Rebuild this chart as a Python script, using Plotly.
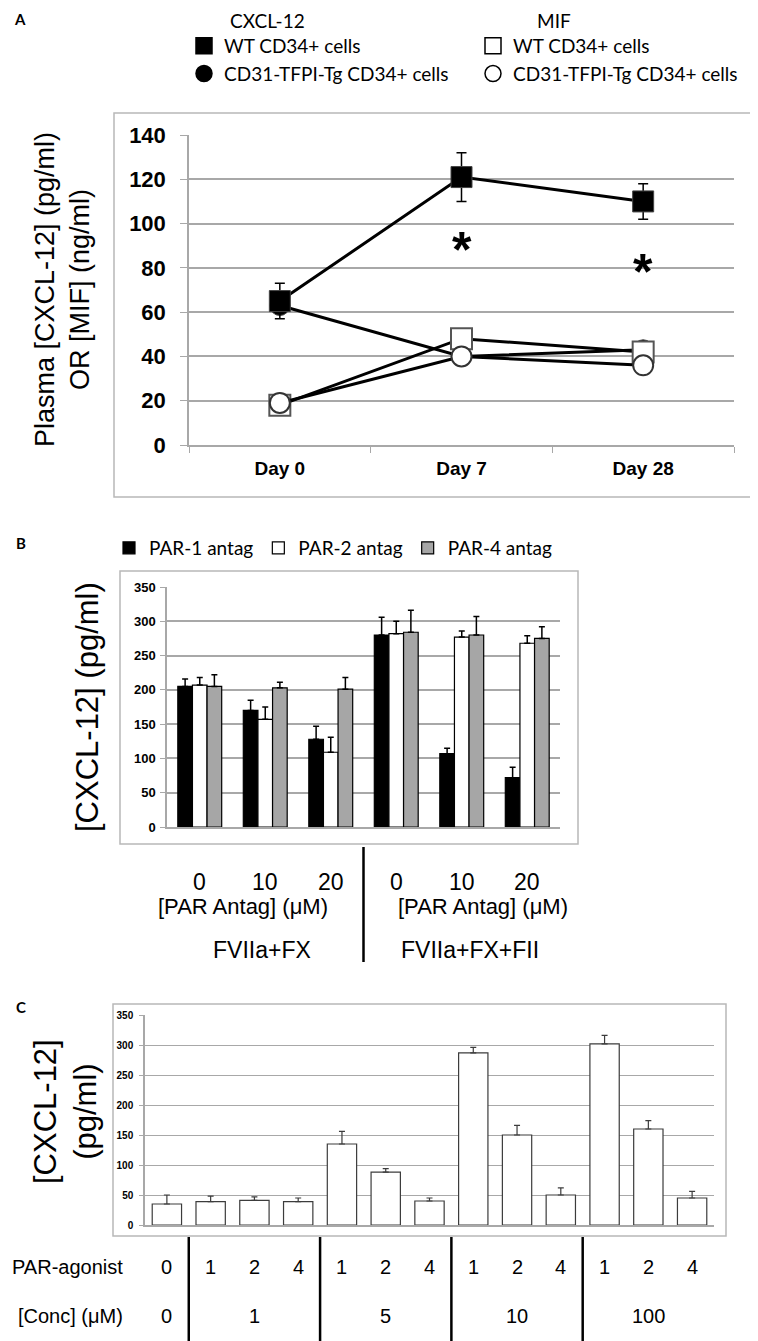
import plotly.graph_objects as go

W, H = 758, 1341
PAGE_OFFSET = 8  # the page body margin shifts the whole figure by this much

# ---- panel A: plasma levels over time
days = ["Day 0", "Day 7", "Day 28"]
cxcl_wt = [65, 121, 110]
cxcl_wt_err = [8, 11, 8]
cxcl_tg = [63, 40, 43]
mif_wt = [18, 48, 42]
mif_tg = [19, 40, 36]
sig_days = ["Day 7", "Day 28"]
sig_y = [93, 83]

# ---- panel B: PAR antagonists
antag_groups = ["FVIIa+FX", "FVIIa+FX+FII"]
antag_doses = ["0", "10", "20"]
par1 = [205, 170, 128, 280, 107, 72]
par1_err = [11, 15, 19, 26, 8, 15]
par2 = [207, 157, 109, 282, 277, 268]
par2_err = [11, 18, 22, 18, 9, 11]
par4 = [205, 203, 201, 284, 280, 275]
par4_err = [17, 8, 17, 32, 27, 17]

# ---- panel C: PAR agonists
conc_groups = ["0", "1", "5", "10", "100"]
agonist_sets = [["0"], ["1", "2", "4"], ["1", "2", "4"], ["1", "2", "4"], ["1", "2", "4"]]
agonist_vals = [35, 39, 41, 39, 135, 88, 40, 287, 150, 50, 302, 160, 45]
agonist_err = [15, 9, 6, 6, 21, 6, 5, 9, 16, 12, 14, 14, 11]

FONT = "Liberation Sans, Arial, sans-serif"
LFONT = "Lato, Calibri, sans-serif"
GRID = "#a8a8a8"
FRAME = "#b8b8b8"


def px(x):
    return (x - PAGE_OFFSET) / W


def py(y):
    return 1 - (y - PAGE_OFFSET) / H


b_cats = [f"{g} {d}" for g in antag_groups for d in antag_doses]
c_cats = [f"{c}|{a}" for c, grp in zip(conc_groups, agonist_sets) for a in grp]

fig = go.Figure()

# panel A lines (draw order keeps open markers on top)
line = dict(color="black", width=3)
fig.add_trace(go.Scatter(x=days, y=cxcl_tg, mode="lines+markers", line=line, showlegend=False,
                         marker=dict(symbol="circle", size=20, color="black", line=dict(color="#444", width=1))))
fig.add_trace(go.Scatter(x=days, y=cxcl_wt, mode="lines+markers", line=line, showlegend=False,
                         error_y=dict(type="data", array=cxcl_wt_err, color="black", thickness=1.5, width=5),
                         marker=dict(symbol="square", size=21, color="black", line=dict(color="#444", width=1))))
fig.add_trace(go.Scatter(x=days, y=mif_wt, mode="lines+markers", line=line, showlegend=False,
                         marker=dict(symbol="square", size=21, color="white", line=dict(color="#555", width=2))))
fig.add_trace(go.Scatter(x=days, y=mif_tg, mode="lines+markers", line=line, showlegend=False,
                         marker=dict(symbol="circle", size=20, color="white", line=dict(color="#333", width=2))))

# legend keys for panel A
legend_keys = [
    ("WT CD34+ cells", "square", "black", "legend"),
    ("CD31-TFPI-Tg CD34+ cells", "circle", "black", "legend"),
    ("WT CD34+ cells", "square", "white", "legend2"),
    ("CD31-TFPI-Tg CD34+ cells", "circle", "white", "legend2"),
]
for name, sym, col, leg in legend_keys:
    fig.add_trace(go.Scatter(x=[None], y=[None], mode="markers", name=name, legend=leg,
                             marker=dict(symbol=sym, size=16, color=col, line=dict(color="black", width=1.5))))

# panel B bars
for name, vals, errs, col in [("PAR-1 antag", par1, par1_err, "black"),
                              ("PAR-2 antag", par2, par2_err, "white"),
                              ("PAR-4 antag", par4, par4_err, "#a6a6a6")]:
    fig.add_trace(go.Bar(x=b_cats, y=vals, name=name, legend="legend3", xaxis="x2", yaxis="y2",
                         marker=dict(color=col, line=dict(color="black", width=1.2)),
                         error_y=dict(type="data", array=errs, arrayminus=[0] * len(errs), symmetric=False,
                                      color="black", thickness=1.5, width=3)))

# panel C bars
fig.add_trace(go.Bar(x=c_cats, y=agonist_vals, xaxis="x3", yaxis="y3", showlegend=False,
                     marker=dict(color="white", line=dict(color="#3c3c3c", width=1.2)),
                     error_y=dict(type="data", array=agonist_err, arrayminus=[0] * len(agonist_err),
                                  symmetric=False, color="#3c3c3c", thickness=1.2, width=3)))

ax_common = dict(showline=True, linecolor=GRID, linewidth=1.5, tickcolor=GRID, zeroline=False,
                 automargin=False)

fig.update_layout(
    template="none",
    width=W, height=H, autosize=False,
    margin=dict(l=0, r=0, t=0, b=0, pad=0),
    paper_bgcolor="white", plot_bgcolor="white",
    bargap=0.33, bargroupgap=0, barmode="group",
    font=dict(family=FONT, color="black"),
    xaxis=dict(domain=[px(189), px(734)], anchor="y", type="category", range=[-0.5, 2.5],
               ticks="outside", tickson="boundaries", ticklen=6, showgrid=False, ticklabelstandoff=5,
               tickfont=dict(family=FONT, size=19, weight="bold"), **ax_common),
    yaxis=dict(domain=[py(445), py(135)], anchor="x", range=[0, 140], dtick=20,
               ticks="outside", ticklen=7, showgrid=True, gridcolor=GRID, gridwidth=1.5,
               ticklabelstandoff=10,
               tickfont=dict(family=FONT, size=22, weight="bold"), **ax_common),
    xaxis2=dict(domain=[px(167), px(560)], anchor="y2", type="category", range=[-0.5, 5.5],
                ticks="", showticklabels=False, showgrid=False, **ax_common),
    yaxis2=dict(domain=[py(827), py(587)], anchor="x2", range=[0, 350], dtick=50,
                ticks="outside", ticklen=5, showgrid=True, gridcolor=GRID, gridwidth=1.5,
                ticklabelstandoff=2,
                tickfont=dict(family=FONT, size=13, weight="bold"), **ax_common),
    xaxis3=dict(domain=[px(145), px(714)], anchor="y3", type="category", range=[-0.5, 12.5],
                ticks="", showticklabels=False, showgrid=False, **ax_common),
    yaxis3=dict(domain=[py(1225), py(1015)], anchor="x3", range=[0, 350], dtick=50,
                ticks="outside", ticklen=4, showgrid=True, gridcolor=GRID, gridwidth=1.2,
                ticklabelstandoff=4,
                tickfont=dict(family=FONT, size=10, weight="bold"), **ax_common),
    legend=dict(x=px(184), y=py(27), xanchor="left", yanchor="top", font=dict(family=LFONT, size=19),
                bgcolor="rgba(0,0,0,0)", itemwidth=30, tracegroupgap=0),
    legend2=dict(x=px(473), y=py(27), xanchor="left", yanchor="top", font=dict(family=LFONT, size=19),
                 bgcolor="rgba(0,0,0,0)", itemwidth=30, tracegroupgap=0),
    legend3=dict(x=px(109), y=py(529), xanchor="left", yanchor="top", orientation="h",
                 font=dict(family=LFONT, size=19), bgcolor="rgba(0,0,0,0)", itemwidth=30),
)

shapes = [
    dict(type="rect", xref="paper", yref="paper", x0=px(114), x1=px(757), y0=py(497), y1=py(113),
         line=dict(color=FRAME, width=1.5)),
    dict(type="rect", xref="paper", yref="paper", x0=px(120), x1=px(578), y0=py(844), y1=py(571),
         line=dict(color=FRAME, width=1.5)),
    dict(type="rect", xref="paper", yref="paper", x0=px(113), x1=px(726), y0=py(1236), y1=py(1004),
         line=dict(color=FRAME, width=1.5)),
    dict(type="line", xref="x2", yref="paper", x0=len(antag_doses) - 0.5, x1=len(antag_doses) - 0.5,
         y0=py(847), y1=py(962), line=dict(color="black", width=2.5)),
]
edge = 0
for grp in agonist_sets[:-1]:
    edge += len(grp)
    shapes.append(dict(type="line", xref="x3", yref="paper", x0=edge - 0.5, x1=edge - 0.5,
                       y0=py(1237), y1=0, line=dict(color="black", width=2.5)))

ann = []


def text(x, y, s, size, family=FONT, bold=False, angle=0, xanchor="center", xref="paper", xshift=0):
    ann.append(dict(x=x, y=y, xref=xref, yref="paper", text=s, showarrow=False, textangle=angle,
                    xanchor=xanchor, yanchor="middle", xshift=xshift,
                    font=dict(family=family, size=size, color="black", weight="bold" if bold else "normal")))


# panel letters and headings (kept just inside the top edge)
text(px(20), py(19), "A", 15, LFONT, True)
text(px(21), py(543), "B", 15, LFONT, True)
text(px(21), py(1007), "C", 15, LFONT, True)
text(px(267), py(21), "CXCL-12", 19, LFONT)
text(px(554), py(21), "MIF", 19, LFONT)

# axis titles
text(px(62), py(290), "Plasma [CXCL-12] (pg/ml)<br>OR [MIF] (ng/ml)", 27, angle=-90)
text(px(87), py(707), "[CXCL-12] (pg/ml)", 31, angle=-90)
text(px(65), py(1112), "[CXCL-12]<br>(pg/ml)", 31, angle=-90)

# significance marks
for d, v in zip(sig_days, sig_y):
    ann.append(dict(x=d, y=v, xref="x", yref="y", text="*", showarrow=False, yshift=-11,
                    font=dict(family=FONT, size=50, color="black", weight="bold")))

# panel B category labels
for i, g in enumerate(antag_groups):
    for d in antag_doses:
        text(f"{g} {d}", py(882), d, 23, xref="x2")
    mid = f"{g} {antag_doses[len(antag_doses) // 2]}"
    text(mid, py(907), "[PAR Antag] (\u03bcM)", 22, xref="x2", xshift=-22 if i == 0 else 21)
    text(mid, py(950), g, 23, xref="x2", xshift=-3 if i == 0 else 8)

# panel C category labels
text(px(125), py(1267), "PAR-agonist", 20, xanchor="right")
text(px(125), py(1316), "[Conc] (\u03bcM)", 20, xanchor="right")
for c, grp in zip(conc_groups, agonist_sets):
    for a in grp:
        text(f"{c}|{a}", py(1267), a, 20, xref="x3")
    text(f"{c}|{grp[len(grp) // 2]}", py(1316), c, 20, xref="x3")

fig.update_layout(shapes=shapes, annotations=ann)
fig.write_html("out.html")
